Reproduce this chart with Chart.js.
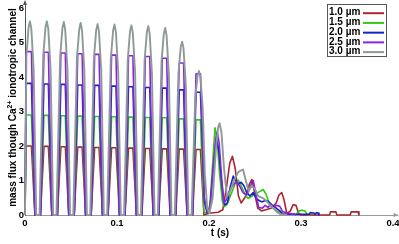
<!DOCTYPE html>
<html>
<head>
<meta charset="utf-8">
<script src="https://cdn.jsdelivr.net/npm/chart.js@4.4.1/dist/chart.umd.min.js"></script>
<style>
  html, body { margin: 0; padding: 0; background: #fff; }
  #wrap { width: 399px; height: 244px; }
</style>
</head>
<body>
<div id="wrap"><canvas id="chart" width="399" height="244"></canvas></div>
<script>
// axis ticks
const tTicks = [0, 0.1, 0.2, 0.3, 0.4];
const yTicks = [0, 1, 2, 3, 4, 5, 6];
const seriesLabels = ['1.0 µm', '1.5 µm', '2.0 µm', '2.5 µm', '3.0 µm'];
const seriesColors = ['#a8262f', '#33c815', '#1424c4', '#8a22e0', '#8e9999'];

// [t (s), mass flux]
const red10 = [
  [0, 0], [0.0012, 2.00], [0.0070, 2.00], [0.0108, 0],
  [0.0168, 0], [0.0206, 1.99], [0.0254, 1.99], [0.0292, 0],
  [0.0352, 0], [0.0390, 1.98], [0.0438, 1.98], [0.0476, 0],
  [0.0535, 0], [0.0573, 1.97], [0.0621, 1.97], [0.0659, 0],
  [0.0719, 0], [0.0757, 1.96], [0.0805, 1.96], [0.0843, 0],
  [0.0903, 0], [0.0941, 1.95], [0.0989, 1.95], [0.1027, 0],
  [0.1087, 0], [0.1125, 1.94], [0.1173, 1.94], [0.1211, 0],
  [0.1270, 0], [0.1308, 1.93], [0.1356, 1.93], [0.1394, 0],
  [0.1454, 0], [0.1492, 1.92], [0.1540, 1.92], [0.1578, 0],
  [0.1638, 0], [0.1676, 1.91], [0.1724, 1.91], [0.1762, 0],
  [0.1821, 0], [0.1859, 1.90], [0.1907, 1.90], [0.1945, 0],
  [0.2000, 0.05], [0.2100, 0.08], [0.2150, 0.15], [0.2190, 0.80], [0.2225, 1.50],
  [0.2255, 1.70], [0.2285, 1.35], [0.2320, 0.55], [0.2350, 0.35], [0.2400, 0.55],
  [0.2440, 0.90], [0.2467, 1.03], [0.2495, 0.65], [0.2530, 0.20], [0.2570, 0.12],
  [0.2620, 0.15], [0.2680, 0.20], [0.2730, 0.35], [0.2760, 0.58], [0.2790, 0.65],
  [0.2815, 0.45], [0.2845, 0.05], [0.2880, 0.10], [0.2915, 0.30], [0.2945, 0.28],
  [0.2975, 0.04], [0.3000, 0], [0.3310, 0], [0.3320, 0.09], [0.3380, 0.09],
  [0.3390, 0], [0.3535, 0], [0.3545, 0.09], [0.3620, 0.09], [0.3630, 0]
];

const green15 = [
  [0, 0], [0.0012, 2.90], [0.0070, 2.90], [0.0108, 0],
  [0.0168, 0], [0.0206, 2.89], [0.0254, 2.89], [0.0292, 0],
  [0.0352, 0], [0.0390, 2.88], [0.0438, 2.88], [0.0476, 0],
  [0.0535, 0], [0.0573, 2.87], [0.0621, 2.87], [0.0659, 0],
  [0.0719, 0], [0.0757, 2.86], [0.0805, 2.86], [0.0843, 0],
  [0.0903, 0], [0.0941, 2.85], [0.0989, 2.85], [0.1027, 0],
  [0.1087, 0], [0.1125, 2.84], [0.1173, 2.84], [0.1211, 0],
  [0.1270, 0], [0.1308, 2.83], [0.1356, 2.83], [0.1394, 0],
  [0.1454, 0], [0.1492, 2.82], [0.1540, 2.82], [0.1578, 0],
  [0.1638, 0], [0.1676, 2.79], [0.1724, 2.79], [0.1762, 0],
  [0.1821, 0], [0.1859, 2.76], [0.1907, 2.76], [0.1945, 0.10],
  [0.1985, 0.02], [0.2010, 0.30], [0.2040, 1.50], [0.2065, 2.53], [0.2085, 2.30],
  [0.2115, 1.20], [0.2145, 0.40], [0.2165, 0.24], [0.2195, 0.30], [0.2240, 0.60],
  [0.2290, 0.95], [0.2318, 1.01], [0.2350, 0.85], [0.2390, 0.60], [0.2424, 0.48],
  [0.2470, 0.55], [0.2530, 0.65], [0.2590, 0.74], [0.2620, 0.60], [0.2660, 0.30],
  [0.2700, 0.20], [0.2736, 0.12], [0.2780, 0.05], [0.2850, 0.02], [0.2950, 0.02],
  [0.2980, 0.12], [0.3010, 0.14], [0.3040, 0.12], [0.3070, 0.02], [0.3100, 0]
];

const blue20 = [
  [0, 0], [0.0012, 3.82], [0.0070, 3.82], [0.0108, 0],
  [0.0168, 0], [0.0206, 3.80], [0.0254, 3.80], [0.0292, 0],
  [0.0352, 0], [0.0390, 3.79], [0.0438, 3.79], [0.0476, 0],
  [0.0535, 0], [0.0573, 3.77], [0.0621, 3.77], [0.0659, 0],
  [0.0719, 0], [0.0757, 3.76], [0.0805, 3.76], [0.0843, 0],
  [0.0903, 0], [0.0941, 3.74], [0.0989, 3.74], [0.1027, 0],
  [0.1087, 0], [0.1125, 3.72], [0.1173, 3.72], [0.1211, 0],
  [0.1270, 0], [0.1308, 3.70], [0.1356, 3.70], [0.1394, 0],
  [0.1454, 0], [0.1492, 3.68], [0.1540, 3.68], [0.1578, 0],
  [0.1638, 0], [0.1676, 3.63], [0.1724, 3.63], [0.1762, 0],
  [0.1821, 0], [0.1859, 3.56], [0.1907, 3.56], [0.1950, 0.40],
  [0.1980, 0.05], [0.2010, 0.20], [0.2045, 1.30], [0.2072, 2.10], [0.2084, 2.20],
  [0.2105, 1.90], [0.2135, 1.00], [0.2160, 0.40], [0.2174, 0.29], [0.2200, 0.35],
  [0.2230, 0.80], [0.2264, 1.13], [0.2290, 1.00], [0.2320, 0.90], [0.2350, 0.95],
  [0.2380, 0.85], [0.2410, 0.65], [0.2445, 0.55], [0.2480, 0.65], [0.2510, 0.50],
  [0.2545, 0.42], [0.2575, 0.38], [0.2610, 0.42], [0.2645, 0.40], [0.2680, 0.30],
  [0.2710, 0.25], [0.2740, 0.18], [0.2770, 0.12], [0.2805, 0.02], [0.3090, 0.02],
  [0.3100, 0.07], [0.3140, 0.06], [0.3150, 0.02], [0.3170, 0.07], [0.3185, 0.06],
  [0.3195, 0]
];

const purple25 = [
  [0, 0], [0.0012, 4.74], [0.0070, 4.74], [0.0108, 0],
  [0.0168, 0], [0.0206, 4.72], [0.0254, 4.72], [0.0292, 0],
  [0.0352, 0], [0.0390, 4.70], [0.0438, 4.70], [0.0476, 0],
  [0.0535, 0], [0.0573, 4.68], [0.0621, 4.68], [0.0659, 0],
  [0.0719, 0], [0.0757, 4.66], [0.0805, 4.66], [0.0843, 0],
  [0.0903, 0], [0.0941, 4.64], [0.0989, 4.64], [0.1027, 0],
  [0.1087, 0], [0.1125, 4.62], [0.1173, 4.62], [0.1211, 0],
  [0.1270, 0], [0.1308, 4.60], [0.1356, 4.60], [0.1394, 0],
  [0.1454, 0], [0.1492, 4.55], [0.1540, 4.55], [0.1578, 0],
  [0.1638, 0], [0.1676, 4.41], [0.1724, 4.41], [0.1762, 0],
  [0.1821, 0], [0.1859, 4.10], [0.1907, 4.10], [0.1950, 0.50],
  [0.1985, 0.05], [0.2015, 0.30], [0.2050, 1.50], [0.2078, 2.30], [0.2090, 2.40],
  [0.2110, 2.10], [0.2140, 1.00], [0.2163, 0.35], [0.2190, 0.45], [0.2230, 0.75],
  [0.2270, 0.90], [0.2301, 0.97], [0.2330, 0.85], [0.2370, 0.65], [0.2410, 0.58],
  [0.2440, 0.75], [0.2465, 0.95], [0.2482, 1.00], [0.2510, 0.60], [0.2540, 0.22],
  [0.2580, 0.20], [0.2610, 0.28], [0.2640, 0.22], [0.2670, 0.30], [0.2700, 0.20],
  [0.2730, 0.28], [0.2770, 0.25], [0.2800, 0.10], [0.2850, 0.05], [0.2910, 0.03],
  [0.2950, 0]
];

const gray30 = [
  [0, 0], [0.0015, 4.60], [0.0039, 5.45], [0.0054, 5.62], [0.0069, 5.40], [0.0094, 4.22], [0.0122, 0],
  [0.0158, 0], [0.0198, 4.61], [0.0223, 5.45], [0.0238, 5.62], [0.0253, 5.40], [0.0278, 4.22], [0.0306, 0],
  [0.0342, 0], [0.0382, 4.59], [0.0407, 5.43], [0.0422, 5.60], [0.0437, 5.38], [0.0462, 4.20], [0.0490, 0],
  [0.0525, 0], [0.0565, 4.57], [0.0590, 5.40], [0.0605, 5.57], [0.0620, 5.35], [0.0645, 4.18], [0.0673, 0],
  [0.0709, 0], [0.0749, 4.54], [0.0774, 5.37], [0.0789, 5.54], [0.0804, 5.32], [0.0829, 4.16], [0.0857, 0],
  [0.0893, 0], [0.0933, 4.53], [0.0958, 5.36], [0.0973, 5.53], [0.0988, 5.31], [0.1013, 4.15], [0.1041, 0],
  [0.1077, 0], [0.1117, 4.51], [0.1142, 5.34], [0.1157, 5.50], [0.1172, 5.28], [0.1197, 4.13], [0.1225, 0],
  [0.1260, 0], [0.1300, 4.49], [0.1325, 5.32], [0.1340, 5.48], [0.1355, 5.26], [0.1380, 4.11], [0.1408, 0],
  [0.1444, 0], [0.1484, 4.45], [0.1509, 5.27], [0.1524, 5.43], [0.1539, 5.21], [0.1564, 4.07], [0.1592, 0],
  [0.1628, 0], [0.1668, 4.12], [0.1693, 4.88], [0.1708, 5.03], [0.1723, 4.83], [0.1748, 3.77], [0.1776, 0],
  [0.1811, 0], [0.1851, 3.43], [0.1876, 4.05], [0.1891, 4.18], [0.1906, 4.01], [0.1931, 3.14],
  [0.1955, 1.20], [0.1980, 0.20], [0.2005, 0.05], [0.2040, 0.50], [0.2075, 1.90], [0.2100, 2.55],
  [0.2115, 2.66], [0.2135, 2.40], [0.2165, 1.30], [0.2195, 0.55], [0.2225, 0.65], [0.2270, 1.00],
  [0.2320, 1.25], [0.2370, 1.32], [0.2400, 1.00], [0.2430, 0.70], [0.2465, 0.85], [0.2500, 0.75],
  [0.2535, 0.55], [0.2580, 0.50], [0.2620, 0.42], [0.2660, 0.30], [0.2700, 0.20], [0.2740, 0.08],
  [0.2780, 0.02], [0.2850, 0]
];

const allSeries = [red10, green15, blue20, purple25, gray30];
const lineWidths = [1.6, 1.6, 1.6, 1.6, 1.9];
const FONT = '"Liberation Sans", Arial, sans-serif';

// titles, arrows and the boxed legend (text first, line sample after)
const decorations = {
    id: 'decorations',
    afterDraw(chart) {
        const ctx = chart.ctx;
        const area = chart.chartArea;
        const xs = chart.scales.x;
        ctx.save();

        // axis arrows
        ctx.fillStyle = '#555';
        ctx.beginPath();
        ctx.moveTo(area.left, area.top - 2);
        ctx.lineTo(area.left - 2, area.top + 3);
        ctx.lineTo(area.left + 2, area.top + 3);
        ctx.closePath();
        ctx.fill();
        ctx.fillStyle = '#999';
        ctx.beginPath();
        ctx.moveTo(area.right + 1, area.bottom);
        ctx.lineTo(area.right - 4, area.bottom - 2);
        ctx.lineTo(area.right - 4, area.bottom + 2);
        ctx.closePath();
        ctx.fill();

        // x title
        ctx.fillStyle = '#000';
        ctx.font = 'bold 10px ' + FONT;
        ctx.textAlign = 'center';
        ctx.textBaseline = 'middle';
        ctx.fillText('t (s)', xs.getPixelForValue(0.212), 233);

        // y title with superscript
        const partA = 'mass flux though Ca';
        const sup = '2+';
        const partB = ' ionotropic channel';
        ctx.font = 'bold 10px ' + FONT;
        const wA = ctx.measureText(partA).width;
        const wB = ctx.measureText(partB).width;
        ctx.font = 'bold 7px ' + FONT;
        const wS = ctx.measureText(sup).width;
        const total = wA + wS + wB;
        ctx.translate(13, (area.top + area.bottom) / 2 - 1);
        ctx.rotate(-Math.PI / 2);
        ctx.textAlign = 'left';
        ctx.textBaseline = 'middle';
        ctx.font = 'bold 10px ' + FONT;
        ctx.fillText(partA, -total / 2, 0);
        ctx.font = 'bold 7px ' + FONT;
        ctx.fillText(sup, -total / 2 + wA, -3);
        ctx.font = 'bold 10px ' + FONT;
        ctx.fillText(partB, -total / 2 + wA + wS, 0);
        ctx.setTransform(1, 0, 0, 1, 0, 0);

        // legend
        ctx.fillStyle = '#fff';
        ctx.fillRect(327, 4.5, 60, 52);
        ctx.strokeStyle = '#555';
        ctx.lineWidth = 1;
        ctx.strokeRect(327.5, 4.5, 59, 52);
        ctx.font = 'bold 10px ' + FONT;
        ctx.textAlign = 'left';
        ctx.textBaseline = 'middle';
        chart.data.datasets.forEach((ds, i) => {
            const y = 12.7 + i * 9.73;
            ctx.fillStyle = '#000';
            ctx.fillText(ds.label, 329, y);
            ctx.strokeStyle = ds.borderColor;
            ctx.lineWidth = 2;
            ctx.beginPath();
            ctx.moveTo(363, y + 0.5);
            ctx.lineTo(384, y + 0.5);
            ctx.stroke();
        });
        ctx.restore();
    }
};

const ctx = document.getElementById('chart').getContext('2d');
new Chart(ctx, {
    type: 'line',
    data: {
        datasets: allSeries.map((pts, i) => ({
            label: seriesLabels[i],
            data: pts.map(p => ({ x: p[0], y: p[1] })),
            borderColor: seriesColors[i],
            borderWidth: lineWidths[i],
            pointRadius: 0,
            tension: 0,
            fill: false,
            clip: 3,
            borderJoinStyle: 'round',
            order: allSeries.length - i
        }))
    },
    options: {
        responsive: false,
        animation: false,
        devicePixelRatio: 1,
        layout: { padding: { left: 0, right: 1.4, top: 2, bottom: 0 } },
        plugins: { legend: { display: false }, tooltip: { enabled: false } },
        scales: {
            x: {
                type: 'linear',
                min: 0,
                max: 0.405,
                afterBuildTicks: s => { s.ticks = tTicks.map(v => ({ value: v })); },
                afterFit: s => { s.height = 29; s.paddingLeft = 0; s.paddingRight = 0; },
                grid: { display: false, drawTicks: false },
                border: { display: true, color: '#999', width: 1 },
                ticks: {
                    color: '#000',
                    padding: 3,
                    maxRotation: 0,
                    font: { family: FONT, size: 9.5, weight: 'bold' },
                    callback: v => String(v)
                }
            },
            y: {
                type: 'linear',
                min: 0,
                max: 6.18,
                afterBuildTicks: s => { s.ticks = yTicks.map(v => ({ value: v })); },
                afterFit: s => { s.width = 25; s.paddingTop = 0; s.paddingBottom = 0; },
                grid: { display: false, drawTicks: false },
                border: { display: true, color: '#555', width: 1 },
                ticks: {
                    color: '#000',
                    padding: 1,
                    font: { family: FONT, size: 9.5, weight: 'bold' },
                    callback: v => String(v)
                }
            }
        }
    },
    plugins: [decorations]
});
</script>
</body>
</html>
